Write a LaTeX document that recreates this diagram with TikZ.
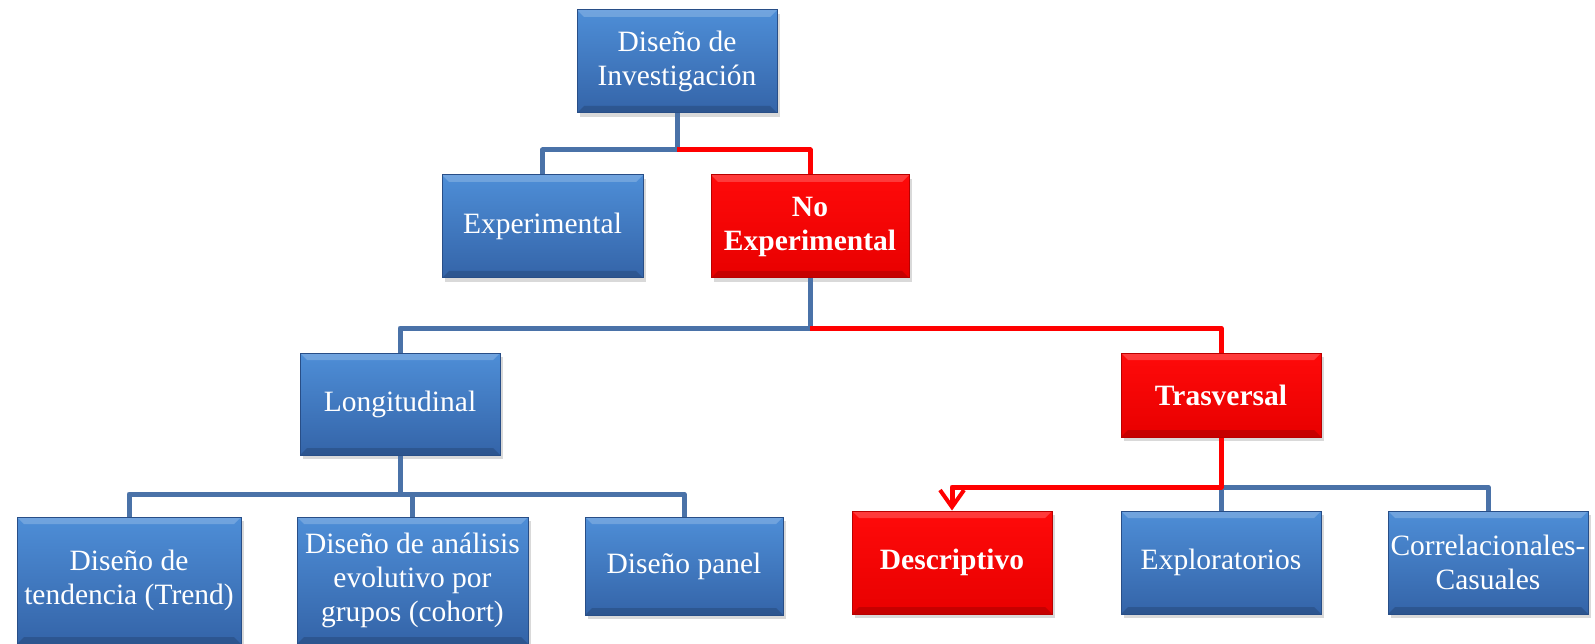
\documentclass[tikz,border=0pt]{standalone}
\usepackage{fontspec}
\setmainfont{Liberation Serif}
\usetikzlibrary{arrows.meta, shadows}

\definecolor{boxtop}{RGB}{78,142,215}
\definecolor{boxbot}{RGB}{52,100,168}
\definecolor{boxedge}{RGB}{40,78,135}
\definecolor{redtop}{RGB}{255,10,10}
\definecolor{redbot}{RGB}{232,0,0}
\definecolor{rededge}{RGB}{185,0,0}
\definecolor{lineblue}{RGB}{74,114,168}

\begin{document}
\begin{tikzpicture}[
  x=1pt, y=-1pt,
  every node/.style={font=\fontsize{29.5}{34}\selectfont},
  bevel/.style={path picture={
    \fill[white, opacity=0.2] (path picture bounding box.north west) -- (path picture bounding box.north east)
      -- ([xshift=-7pt, yshift=-7pt]path picture bounding box.north east) -- ([xshift=7pt, yshift=-7pt]path picture bounding box.north west) -- cycle;
    \fill[black, opacity=0.15] (path picture bounding box.south west) -- (path picture bounding box.south east)
      -- ([xshift=-7pt, yshift=7pt]path picture bounding box.south east) -- ([xshift=7pt, yshift=7pt]path picture bounding box.south west) -- cycle;
  }},
  box/.style={draw=boxedge, line width=1pt, minimum width=200pt, minimum height=103pt, align=center, inner sep=2pt, text=white, bevel,
    drop shadow={shadow xshift=3pt, shadow yshift=-4pt, opacity=0.3}},
  bluebox/.style={box, top color=boxtop, bottom color=boxbot},
  redbox/.style={box, draw=rededge, top color=redtop, bottom color=redbot, font=\fontsize{29.5}{34}\selectfont\bfseries},
  bline/.style={line width=5pt, draw=lineblue, line join=round},
  rline/.style={line width=5pt, draw=red, line join=round},
  rarrow/.style={rline, -{Straight Barb[length=17pt, width=24pt, line width=4pt]}}
]
\useasboundingbox (0,0) rectangle (1595,644);

% === LEVEL 0 ===
\node[bluebox] (inv) at (677, 61.5) {Diseño de\\Investigación};

% === LEVEL 1 ===
\node[bluebox, minimum width=201pt] (exp) at (542.5, 226.5) {Experimental};
\node[redbox, minimum width=198pt] (noexp) at (810, 226.5) {No\\Experimental};

% === LEVEL 2 ===
\node[bluebox, minimum height=102pt] (lon) at (400, 404) {Longitudinal};
\node[redbox, minimum height=84pt] (tra) at (1221, 395) {Trasversal};

% === LEVEL 3 (left) ===
\node[bluebox, minimum width=224pt, minimum height=127pt] (ten) at (129, 580.5) {Diseño de\\tendencia (Trend)};
\node[bluebox, minimum width=231pt, minimum height=127pt] (ana) at (412.5, 580.5) {Diseño de análisis\\evolutivo por\\grupos (cohort)};
\node[bluebox, minimum width=198pt, minimum height=98pt] (pan) at (684, 566) {Diseño panel};

% === LEVEL 3 (right) ===
\node[redbox] (des) at (952, 562.5) {Descriptivo};
\node[bluebox] (explo) at (1221, 562.5) {Exploratorios};
\node[bluebox] (cor) at (1488, 562.5) {Correlacionales-\\Casuales};

% junctions
\coordinate (j1) at (677, 150);
\coordinate (j2) at (810, 328);
\coordinate (j3) at (400, 494);
\coordinate (j4) at (1221, 487);

% === CONNECTORS ===
\draw[bline] (inv.south) -- (j1) -| (exp.north);
\draw[rline] (j1) -| (noexp.north);

\draw[bline] (noexp.south) -- (j2) -| (lon.north);
\draw[rline] (j2) -| (tra.north);

\draw[bline] (lon.south) -- (j3) -| (ten.north);
\draw[bline] (j3) -| (ana.north);
\draw[bline] (j3) -| (pan.north);

\draw[bline] (j4) -- (explo.north);
\draw[bline] (j4) -| (cor.north);
\draw[rarrow] (tra.south) -- (j4) -| (des.north);

\end{tikzpicture}
\end{document}
